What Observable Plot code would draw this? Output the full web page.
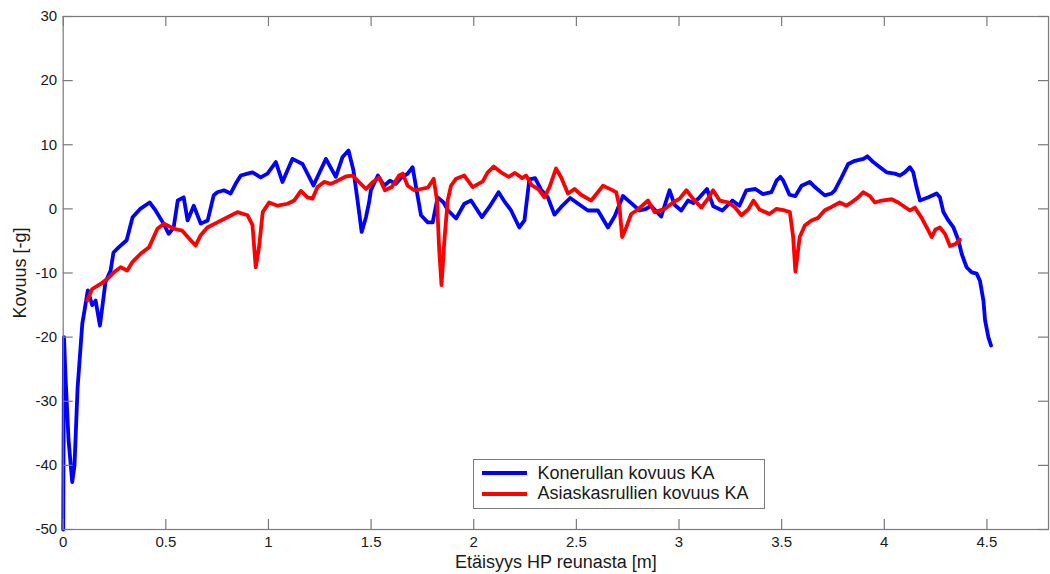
<!DOCTYPE html>
<html>
<head>
<meta charset="utf-8">
<script src="https://cdn.jsdelivr.net/npm/d3@7"></script>
<script src="https://cdn.jsdelivr.net/npm/@observablehq/plot@0.6"></script>
<style>
  body { margin: 0; background: #fff; }
  #wrap { position: relative; width: 1050px; height: 574px; font-family: "Liberation Sans", Arial, sans-serif; color: #1a1a1a; }
  #legend { position: absolute; left: 472.5px; top: 459px; width: 292px; height: 50px; box-sizing: border-box;
            border: 1px solid #7a7a7a; background: #fff; }
  #legend .row { position: absolute; left: 0; height: 20px; display: flex; align-items: center; }
  #legend .sw { width: 45px; height: 4px; margin-left: 8px; margin-right: 11px; }
  #legend .lab { font-size: 18px; white-space: nowrap; }
</style>
</head>
<body>
<div id="wrap"></div>
<script>
// Kovuusprofiili: etäisyys hoitopuolen reunasta (m) ja kovuus (-g)
const seriesNames = ["Konerullan kovuus KA", "Asiaskasrullien kovuus KA"];
const seriesColors = ["#0000ff", "#ff0000"];

const koneX = [0.000, 0.004, 0.011, 0.026, 0.044, 0.055, 0.070, 0.093, 0.104, 0.120, 0.141, 0.158, 0.179, 0.206,
  0.231, 0.245, 0.270, 0.309, 0.338, 0.377, 0.421, 0.450, 0.489, 0.514, 0.538, 0.558, 0.587, 0.606, 0.636, 0.670,
  0.704, 0.733, 0.751, 0.783, 0.816, 0.840, 0.865, 0.898, 0.922, 0.962, 0.995, 1.036, 1.068, 1.117, 1.166, 1.219,
  1.280, 1.328, 1.361, 1.390, 1.414, 1.434, 1.454, 1.475, 1.490, 1.499, 1.533, 1.564, 1.592, 1.621, 1.645, 1.678,
  1.702, 1.719, 1.743, 1.776, 1.800, 1.824, 1.853, 1.875, 1.914, 1.954, 1.987, 2.040, 2.076, 2.121, 2.153, 2.182,
  2.222, 2.247, 2.271, 2.299, 2.328, 2.361, 2.393, 2.426, 2.470, 2.509, 2.556, 2.605, 2.654, 2.686, 2.727, 2.767,
  2.808, 2.840, 2.864, 2.913, 2.954, 2.979, 3.011, 3.044, 3.070, 3.100, 3.136, 3.167, 3.211, 3.260, 3.294, 3.328,
  3.372, 3.409, 3.450, 3.475, 3.494, 3.508, 3.538, 3.567, 3.597, 3.637, 3.662, 3.710, 3.743, 3.759, 3.792, 3.824,
  3.857, 3.898, 3.918, 3.946, 3.987, 4.011, 4.052, 4.076, 4.100, 4.125, 4.141, 4.157, 4.174, 4.215, 4.255, 4.271,
  4.288, 4.312, 4.337, 4.361, 4.377, 4.401, 4.426, 4.450, 4.466, 4.483, 4.491, 4.507, 4.520];
const koneY = [-50, -20, -26, -36, -42.6, -40, -28, -17.9, -15.8, -12.7, -15, -14.3, -18.2, -11.4,
  -9.6, -6.8, -6, -4.9, -1.3, 0.05, 1.0, -0.25, -2.3, -3.9, -2.9, 1.3, 1.8, -1.8, 0.5, -2.3,
  -1.8, 2.1, 2.6, 2.9, 2.4, 3.9, 5.2, 5.5, 5.7, 4.9, 5.5, 7.3, 4.2, 7.8, 7.0, 3.65,
  7.8, 5.0, 8.1, 9.1, 6.0, 1.3, -3.6, -1.3, 1.0, 2.9, 5.2, 3.6, 4.4, 3.9, 4.8, 5.5,
  6.5, 3.4, -1.0, -2.1, -2.1, 1.8, 1.0, -0.25, -1.5, 0.8, 1.3, -1.3, 0.3, 2.6, 1.0, -0.25,
  -2.9, -1.8, 4.6, 4.8, 3.0, 1.8, -0.9, 0.3, 1.7, 0.8, -0.25, -0.25, -2.9, -1.2, 2.0, 0.9,
  -0.25, 0, 0.5, -1.2, 2.9, 0.6, -0.25, 1.3, 0.9, 1.8, 3.1, 0.4, -0.25, 1.3, 0.5, 2.9,
  3.1, 2.3, 2.6, 4.4, 5.0, 4.4, 2.2, 2.0, 3.6, 4.2, 3.4, 2.1, 2.4, 2.9, 4.9, 7.0,
  7.5, 7.8, 8.2, 7.3, 6.3, 5.7, 5.5, 5.2, 5.7, 6.5, 5.7, 3.4, 1.3, 1.8, 2.4, 1.8,
  -0.5, -1.8, -2.9, -4.9, -7.0, -9.1, -9.9, -10.1, -11.2, -14.3, -17.4, -20.0, -21.3];

const asiakasX = [0.117, 0.141, 0.182, 0.215, 0.247, 0.280, 0.312, 0.337, 0.377, 0.418, 0.459, 0.491, 0.540, 0.580,
  0.621, 0.645, 0.670, 0.702, 0.751, 0.800, 0.849, 0.898, 0.922, 0.938, 0.954, 0.972, 1.003, 1.044, 1.093, 1.125,
  1.158, 1.190, 1.215, 1.239, 1.271, 1.304, 1.337, 1.377, 1.410, 1.434, 1.475, 1.509, 1.539, 1.567, 1.601, 1.636,
  1.654, 1.678, 1.710, 1.743, 1.776, 1.805, 1.821, 1.832, 1.843, 1.857, 1.873, 1.889, 1.914, 1.954, 1.995, 2.044,
  2.068, 2.097, 2.133, 2.170, 2.201, 2.236, 2.255, 2.282, 2.314, 2.344, 2.369, 2.401, 2.426, 2.459, 2.491, 2.523,
  2.572, 2.630, 2.670, 2.694, 2.710, 2.723, 2.743, 2.767, 2.800, 2.849, 2.881, 2.930, 2.971, 3.003, 3.036, 3.068,
  3.109, 3.141, 3.166, 3.198, 3.239, 3.271, 3.304, 3.337, 3.363, 3.392, 3.440, 3.475, 3.515, 3.540, 3.556, 3.567,
  3.588, 3.613, 3.645, 3.678, 3.710, 3.743, 3.783, 3.816, 3.840, 3.873, 3.897, 3.930, 3.954, 3.987, 4.036, 4.068,
  4.100, 4.125, 4.149, 4.182, 4.215, 4.231, 4.250, 4.271, 4.296, 4.320, 4.346, 4.368];
const asiakasY = [-14.3, -12.5, -11.7, -10.9, -9.9, -9.1, -9.6, -8.3, -7.0, -6.0, -3.1, -2.3, -3.1, -3.4,
  -4.9, -5.7, -4.1, -2.9, -2.1, -1.3, -0.5, -1.0, -2.5, -9.1, -6.0, -0.5, 1.0, 0.5, 0.8, 1.3,
  2.8, 1.8, 1.6, 3.4, 4.2, 3.9, 4.4, 5.05, 5.2, 4.4, 3.1, 4.2, 4.9, 2.9, 3.4, 5.2,
  5.5, 3.6, 2.9, 3.1, 3.3, 4.7, 1.3, -6.5, -11.9, -4.9, 1.3, 3.6, 4.7, 5.2, 3.4, 4.3,
  5.7, 6.6, 5.7, 5.0, 5.6, 4.8, 5.2, 3.7, 3.1, 1.8, 3.4, 6.3, 4.9, 2.4, 3.1, 2.2,
  1.3, 3.6, 3.0, 2.6, 0.3, -4.4, -2.9, -0.8, -0.1, 1.3, -0.5, 0, 1.0, 1.6, 2.9, 1.6,
  0.2, 1.6, 2.9, 1.3, 1.0, 0.3, -1.0, -0.1, 1.3, -0.1, -0.8, 0, -0.25, -0.5, -4.4, -9.8,
  -4.4, -2.6, -1.8, -1.4, -0.2, 0.3, 1.0, 0.5, 1.0, 1.8, 2.6, 2.0, 1.0, 1.3, 1.5, 1.0,
  0.3, -0.25, 0.2, -1.4, -3.4, -4.4, -3.2, -2.9, -3.9, -5.8, -5.5, -4.8];

const xTicks = [0, 0.5, 1, 1.5, 2, 2.5, 3, 3.5, 4, 4.5];
const yTicks = [-50, -40, -30, -20, -10, 0, 10, 20, 30];
const xLabel = "Etäisyys HP reunasta [m]";
const yLabel = "Kovuus [-g]";

const kone = koneX.map((x, i) => ({x, y: koneY[i]}));
const asiakas = asiakasX.map((x, i) => ({x, y: asiakasY[i]}));

const W = 1050, H = 574;
const mL = 62.7, mT = 16, mR = 2, mB = 45;
const innerW = W - mL - mR, innerH = H - mT - mB;
const tickLen = 10;
const axisGrey = "#7a7a7a";
const textCol = "#1a1a1a";

const chart = Plot.plot({
  width: W, height: H,
  marginLeft: mL, marginTop: mT, marginRight: mR, marginBottom: mB,
  style: {fontFamily: '"Liberation Sans", Arial, sans-serif', fontSize: "15px", color: textCol, background: "#fff"},
  x: {domain: [0, 4.8]},
  y: {domain: [-50, 30]},
  marks: [
    Plot.line(kone, {x: "x", y: "y", stroke: seriesColors[0], strokeWidth: 3.8, strokeLinejoin: "round", strokeLinecap: "round"}),
    Plot.line(asiakas, {x: "x", y: "y", stroke: seriesColors[1], strokeWidth: 3.8, strokeLinejoin: "round", strokeLinecap: "round"}),
    Plot.frame({stroke: axisGrey, strokeWidth: 1.2}),
    // inward ticks on all four sides of the box
    Plot.tickX(xTicks, {x: d => d, insetTop: innerH - tickLen, stroke: axisGrey, strokeWidth: 1.2}),
    Plot.tickX(xTicks, {x: d => d, insetBottom: innerH - tickLen, stroke: axisGrey, strokeWidth: 1.2}),
    Plot.tickY(yTicks, {y: d => d, insetRight: innerW - tickLen, stroke: axisGrey, strokeWidth: 1.2}),
    Plot.tickY(yTicks, {y: d => d, insetLeft: innerW - tickLen, stroke: axisGrey, strokeWidth: 1.2}),
    Plot.axisX(xTicks, {tickSize: 0, tickPadding: 7, label: null, tickFormat: d => String(d), fill: textCol}),
    Plot.axisY(yTicks, {tickSize: 0, tickPadding: 6, label: null, tickFormat: d => String(d), fill: textCol}),
    Plot.text([xLabel], {text: d => d, frameAnchor: "bottom", lineAnchor: "middle", textAnchor: "middle", dy: 33, fontSize: 18, fill: textCol}),
    Plot.text([yLabel], {text: d => d, frameAnchor: "left", lineAnchor: "middle", textAnchor: "middle", rotate: -90, dx: -42.7, fontSize: 18, fill: textCol})
  ]
});

const wrap = document.getElementById("wrap");
wrap.appendChild(chart);

// legend box placed inside the plotting area
const legend = document.createElement("div");
legend.id = "legend";
seriesNames.forEach((name, i) => {
  const row = document.createElement("div");
  row.className = "row";
  row.style.top = (3 + i * 20.5) + "px";
  const sw = document.createElement("div");
  sw.className = "sw";
  sw.style.background = seriesColors[i];
  const lab = document.createElement("span");
  lab.className = "lab";
  lab.textContent = name;
  row.appendChild(sw);
  row.appendChild(lab);
  legend.appendChild(row);
});
wrap.appendChild(legend);
</script>
</body>
</html>
